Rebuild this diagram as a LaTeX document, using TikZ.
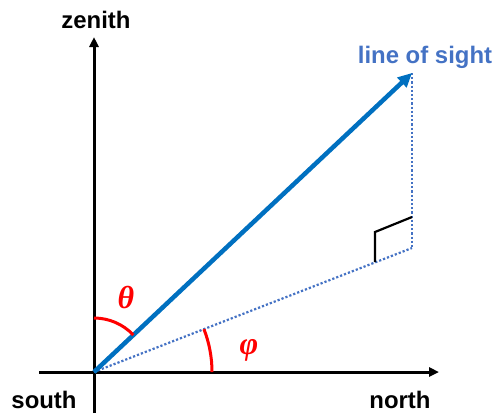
\documentclass[tikz,border=0pt]{standalone}
\usepackage{fontspec}
\setmainfont{Liberation Sans}
\newfontfamily\greekfont{Liberation Serif}
\usetikzlibrary{arrows.meta}
\definecolor{losblue}{HTML}{0070C0}
\definecolor{labblue}{HTML}{4472C4}
\tikzset{
  axis/.style={line width=3bp, black, -{Triangle[length=10bp,width=9bp]}},
  lbl/.style={font=\fontsize{24}{28}\selectfont\bfseries, inner sep=0pt},
  ang/.style={line width=3bp, red},
  proj/.style={line width=2.2bp, labblue, dotted},
  greek/.style={inner sep=0pt, text=red, font=\greekfont\fontsize{32}{36}\selectfont\bfseries\itshape},
}
\begin{document}
\begin{tikzpicture}[x=1bp,y=-1bp]
\useasboundingbox (0,0) rectangle (496,413);
\coordinate (O) at (94,372);
\coordinate (Zt) at (94,37);
\coordinate (Zb) at (94,413);
\coordinate (Nl) at (39,372);
\coordinate (Nt) at (439,372);
\coordinate (L) at (412,73);
\coordinate (P) at (412,248);
\coordinate (Ra) at (375,262);
\coordinate (Rb) at (375,232);
\coordinate (Rc) at (412,217);
% axes
\draw[axis] (Zb) -- (Zt);
\draw[axis] (Nl) -- (Nt);
% projections
\draw[proj] (O) -- (P);
\draw[proj] (L) -- (P);
% right angle
\draw[line width=2.2bp, black] (Ra) -- (Rb) -- (Rc);
% line of sight
\draw[line width=4.5bp, losblue, -{Triangle[length=14bp,width=13bp]}] (O) -- (L);
% angles
\draw[ang] (94,318) arc[start angle=-90, end angle=-43.2, radius=54];
\draw[ang] (212,372) arc[start angle=0, end angle=-21.3, radius=118];
% labels
\node[lbl] (zen) at (96,20) {zenith};
\node[lbl, text=labblue] (los) at (425,57) {line of sight};
\node[lbl] (sou) at (44,400) {south};
\node[lbl] (nor) at (400,400) {north};
\node[greek] (th) at (126,297) {θ};
\node[greek] (ph) at (249,350) {φ};
\end{tikzpicture}
\end{document}
